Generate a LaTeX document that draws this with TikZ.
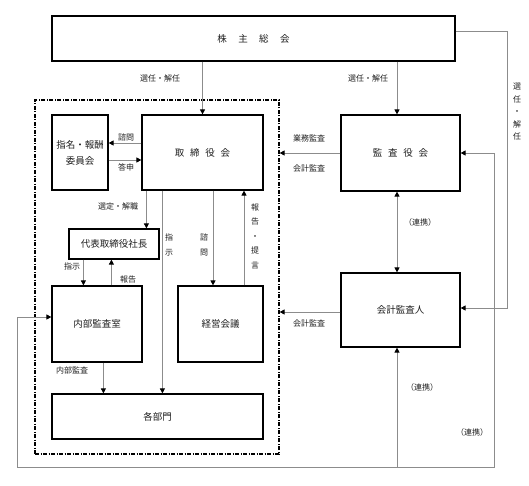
\documentclass[tikz,border=0pt]{standalone}
\usepackage{fontspec}
\setmainfont{Noto Sans CJK JP}
\usetikzlibrary{arrows.meta,calc}
\definecolor{lnc}{HTML}{8C8C8C}
\definecolor{txc}{HTML}{1E1E1E}

\begin{document}
\begin{tikzpicture}[x=1pt,y=-1pt,
    box/.style={draw=black,line width=1.2pt,inner sep=0pt,align=center,
      text=txc,font=\fontsize{9.5}{16}\selectfont},
    lbl/.style={inner sep=0pt,text=txc,font=\fontsize{8}{10}\selectfont},
    vlbl/.style={lbl,align=center,font=\fontsize{8}{#1}\selectfont},
    con/.style={draw=lnc,line width=0.9pt},
    arr/.style={con,-{Triangle[black,length=5pt,width=5pt]}},
    biarr/.style={con,{Triangle[black,length=5pt,width=5pt]}-{Triangle[black,length=5pt,width=5pt]}},
    grpbox/.style={draw=black,line width=1.2pt,dash pattern=on 4pt off 1.5pt on 1pt off 1.5pt}]
   \useasboundingbox (0,0) rectangle (529,486);

   % boxes
   \node[box,minimum width=403pt,minimum height=45pt] (sokai) at (253.5,38.5)
     {株\hspace{1.2em}主\hspace{1.2em}総\hspace{1.2em}会};
   \node[box,minimum width=56pt,minimum height=75pt] (iinkai) at (80,152.5)
     {指名・報酬\\委員会};
   \node[box,minimum width=121pt,minimum height=75pt] (torishimari) at (202.5,152.5)
     {取\hspace{0.6em}締\hspace{0.6em}役\hspace{0.6em}会};
   \node[box,minimum width=119pt,minimum height=76pt] (kansayaku) at (400.5,153)
     {監\hspace{0.6em}査\hspace{0.6em}役\hspace{0.6em}会};
   \node[box,minimum width=90pt,minimum height=30pt] (daihyo) at (114,244) {代表取締役社長};
   \node[box,minimum width=90pt,minimum height=76pt] (naibu) at (97,324) {内部監査室};
   \node[box,minimum width=85pt,minimum height=76pt] (keiei) at (220.5,324) {経営会議};
   \node[box,minimum width=211pt,minimum height=45pt] (kakubu) at (157.5,416.5) {各部門};
   \node[box,minimum width=119pt,minimum height=74pt] (kaikei) at (400.5,310) {会計監査人};

   % execution side
   \node[grpbox,minimum width=244pt,minimum height=354pt,inner sep=0pt] (grp) at (157,277) {};

   % helper points
   \coordinate (kx) at (397,0);
   \coordinate (rx) at (507,0);
   \coordinate (bx) at (494,467);
   \coordinate (lx) at (17,467);
   \coordinate (nw) at ([yshift=7]naibu.west);
   \coordinate (ka) at ([yshift=2]kaikei.east);
   \coordinate (sk) at ([yshift=7.5]sokai.east);

   % election
   \draw[arr] (sokai.south -| torishimari.north) -- (torishimari.north);
   \draw[arr] (sokai.south -| kx) -- (kansayaku.north -| kx);
   \draw[arr] (sk) -- (sk -| rx) -- (rx |- ka) -- (ka);
%   \draw[con] (sokai.east) -- ++(20,0);

   % board
   \draw[arr] ([yshift=9.5]torishimari.west) -- ([yshift=9.5]torishimari.west -| iinkai.east);
   \draw[arr] ([yshift=-7.5]iinkai.east) -- ([yshift=-7.5]iinkai.east -| torishimari.west);
   \draw[arr] ([xshift=5]torishimari.south west) -- ([xshift=5]torishimari.south west |- daihyo.north);
   \draw[arr] ([xshift=21]torishimari.south west) -- ([xshift=21]torishimari.south west |- kakubu.north);
   \draw[arr] ([xshift=-7.5]keiei.north |- torishimari.south) -- ([xshift=-7.5]keiei.north);
   \draw[arr] ([xshift=23.5]keiei.north) -- ([xshift=23.5]keiei.north |- torishimari.south);
   \draw[arr] ([xshift=32]naibu.north west |- daihyo.south) -- ([xshift=32]naibu.north west);
   \draw[arr] ([xshift=60]naibu.north west) -- ([xshift=60]naibu.north west |- daihyo.south);
   \draw[arr] ([xshift=52]naibu.south west) -- ([xshift=52]naibu.south west |- kakubu.north);

   % audit
   \draw[arr] (kansayaku.west) -- (kansayaku.west -| grp.east);
   \draw[arr] ([yshift=-2]kaikei.west) -- ([yshift=-2]kaikei.west -| grp.east);
   \draw[biarr] (kansayaku.south -| kx) -- (kaikei.north -| kx);
   \draw[biarr] (kansayaku.east) -- (kansayaku.east -| bx) -- (bx) -- (lx) -- (lx |- nw) -- (nw);
   \draw[arr] (kx |- bx) -- (kaikei.south -| kx);

   % labels
   \node[lbl] (l1) at (160,78) {選任・解任};
   \node[lbl] (l2) at (368,78) {選任・解任};
   \node[vlbl=12.5] (l3) at (517,112) {選\\任\\・\\解\\任};
   \node[lbl] (l4) at (126,137) {諮問};
   \node[lbl] (l5) at (126,167) {答申};
   \node[lbl] (l6) at (118,206) {選定・解職};
   \node[vlbl=15] (l7) at (169,244.5) {指\\示};
   \node[vlbl=15] (l8) at (204,244.5) {諮\\問};
   \node[vlbl=14.5] (l9) at (255,236) {報\\告\\・\\提\\言};
   \node[lbl] (l10) at (72,266) {指示};
   \node[lbl] (l11) at (128,279) {報告};
   \node[lbl] (l12) at (72,370) {内部監査};
   \node[lbl] (l13) at (309,138) {業務監査};
   \node[lbl] (l14) at (309,168) {会計監査};
   \node[lbl] (l15) at (309,323) {会計監査};
   \node[lbl] (l16) at (420,222) {（連携）};
   \node[lbl] (l17) at (422,387) {（連携）};
   \node[lbl] (l18) at (472,432) {（連携）};
\end{tikzpicture}
\end{document}
